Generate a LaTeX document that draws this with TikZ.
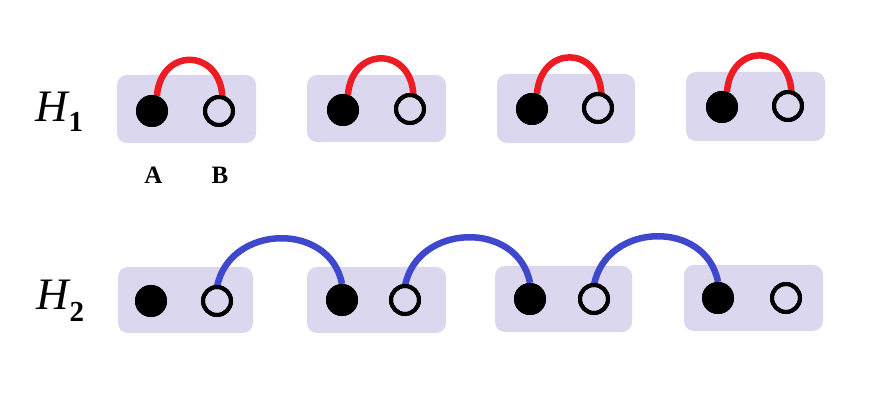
\documentclass[tikz,border=0pt]{standalone}
\usepackage{fontspec}
\setmainfont{Liberation Serif}
\definecolor{boxfill}{RGB}{218,215,238}
\definecolor{arcred}{RGB}{237,28,36}
\definecolor{arcblue}{RGB}{63,72,204}
\tikzset{
  pairbox/.style={fill=boxfill, rounded corners=10pt},
  solidpt/.style={circle, fill=black, minimum size=32pt, inner sep=0pt, outer sep=0pt},
  hollowpt/.style={circle, draw=black, line width=4pt, minimum size=28pt, inner sep=0pt, outer sep=0pt},
  redarc/.style={draw=arcred, line width=6.5pt},
  bluearc/.style={draw=arcblue, line width=6.5pt},
  hlabel/.style={anchor=base west, inner sep=0pt},
  ablabel/.style={font=\fontsize{25}{25}\selectfont\bfseries, inner sep=0pt}
}
\begin{document}
\begin{tikzpicture}[x=1pt,y=-1pt]
\useasboundingbox (0,0) rectangle (875,411);
% row 1 boxes
\fill[pairbox] (117,75) rectangle (256,143);
\fill[pairbox] (307,75) rectangle (446,142);
\fill[pairbox] (497,74) rectangle (635,143);
\fill[pairbox] (686,72) rectangle (825,141);
% row 2 boxes
\fill[pairbox] (118,267) rectangle (253,333);
\fill[pairbox] (307,267) rectangle (446,333);
\fill[pairbox] (495,266) rectangle (632,332);
\fill[pairbox] (684,265) rectangle (823,331);
% row 1 nodes (placed for naming; drawn later on top)
\path node[solidpt] (a1) at (152,111) {}
      node[hollowpt] (b1) at (219,111) {}
      node[solidpt] (a2) at (343,110) {}
      node[hollowpt] (b2) at (410,109) {}
      node[solidpt] (a3) at (532,109) {}
      node[hollowpt] (b3) at (598,108) {}
      node[solidpt] (a4) at (722,107) {}
      node[hollowpt] (b4) at (788,106) {};
% row 2 nodes
\path node[solidpt] (c1) at (151,301) {}
      node[hollowpt] (d1) at (217,301) {}
      node[solidpt] (c2) at (342,300) {}
      node[hollowpt] (d2) at (405,300) {}
      node[solidpt] (c3) at (530,299) {}
      node[hollowpt] (d3) at (594,299) {}
      node[solidpt] (c4) at (718,298) {}
      node[hollowpt] (d4) at (786,298) {};
% red arcs
\draw[redarc] (a1.72) .. controls +(4,-49) and +(-2,-49) .. (b1.76);
\draw[redarc] (a2.72) .. controls +(4,-49) and +(-2,-49) .. (b2.76);
\draw[redarc] (a3.72) .. controls +(4,-49) and +(-2,-49) .. (b3.76);
\draw[redarc] (a4.72) .. controls +(4,-49) and +(-2,-49) .. (b4.76);
% blue arcs
\draw[bluearc] (d1.north) .. controls +(12,-63) and +(-12,-63) .. (c2.north);
\draw[bluearc] (d2.north) .. controls +(12,-63) and +(-12,-63) .. (c3.north);
\draw[bluearc] (d3.north) .. controls +(12,-63) and +(-12,-63) .. (c4.north);
% circles on top
\foreach \n in {a1,a2,a3,a4,c1,c2,c3,c4} \fill (\n) circle (16pt);
\foreach \n in {b1,b2,b3,b4,d1,d2,d3,d4} \draw[line width=4pt] (\n) circle (14pt);
% labels
\node[hlabel] (h1) at (35,122) {\fontsize{45}{45}\selectfont\itshape H\hspace{1pt}\raisebox{-10pt}{\fontsize{29}{29}\selectfont\upshape\bfseries 1}};
\node[hlabel] (h2) at (36,310) {\fontsize{45}{45}\selectfont\itshape H\hspace{1pt}\raisebox{-12pt}{\fontsize{29}{29}\selectfont\upshape\bfseries 2}};
\node[ablabel] (la) at (153.5,175.5) {A};
\node[ablabel] (lb) at (220,175.5) {B};
\end{tikzpicture}
\end{document}
